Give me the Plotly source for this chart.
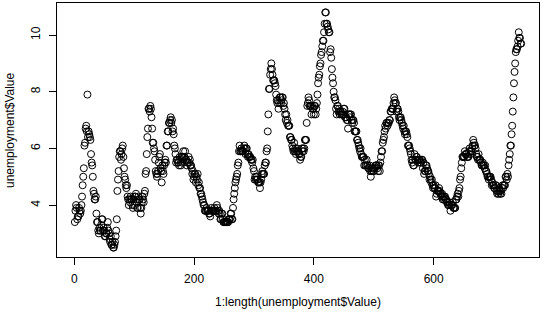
import plotly.graph_objects as go

# Monthly US unemployment rate (%), Jan 1948 onwards, one list per year
rate_1948_1959 = [
    3.4, 3.8, 4.0, 3.9, 3.5, 3.6, 3.6, 3.9, 3.8, 3.7, 3.8, 4.0,
    4.3, 4.7, 5.0, 5.3, 6.1, 6.2, 6.7, 6.8, 6.6, 7.9, 6.4, 6.6,
    6.5, 6.4, 6.3, 5.8, 5.5, 5.4, 5.0, 4.5, 4.4, 4.2, 4.2, 4.3,
    3.7, 3.4, 3.4, 3.1, 3.0, 3.2, 3.1, 3.1, 3.3, 3.5, 3.5, 3.1,
    3.2, 3.1, 2.9, 2.9, 3.0, 3.0, 3.2, 3.4, 3.1, 3.0, 2.8, 2.7,
    2.9, 2.6, 2.6, 2.7, 2.5, 2.5, 2.6, 2.7, 2.9, 3.1, 3.5, 4.5,
    4.9, 5.2, 5.7, 5.9, 5.9, 5.6, 5.8, 6.0, 6.1, 5.7, 5.3, 5.0,
    4.9, 4.7, 4.6, 4.7, 4.3, 4.2, 4.0, 4.2, 4.1, 4.3, 4.2, 4.2,
    4.0, 3.9, 4.2, 4.0, 4.3, 4.3, 4.4, 4.1, 3.9, 3.9, 4.3, 4.2,
    4.2, 3.9, 3.7, 3.9, 4.1, 4.3, 4.2, 4.1, 4.4, 4.5, 5.1, 5.2,
    5.8, 6.4, 6.7, 7.4, 7.4, 7.3, 7.5, 7.4, 7.1, 6.7, 6.2, 6.2,
    6.0, 5.9, 5.6, 5.2, 5.1, 5.0, 5.1, 5.2, 5.5, 5.7, 5.8, 5.3,
]
rate_1960_1971 = [
    5.2, 4.8, 5.4, 5.2, 5.1, 5.4, 5.5, 5.6, 5.5, 6.1, 6.1, 6.6,
    6.6, 6.9, 6.9, 7.0, 7.1, 6.9, 7.0, 6.6, 6.7, 6.5, 6.1, 6.0,
    5.8, 5.5, 5.6, 5.6, 5.5, 5.5, 5.4, 5.7, 5.6, 5.4, 5.7, 5.5,
    5.7, 5.9, 5.7, 5.7, 5.9, 5.6, 5.6, 5.4, 5.5, 5.5, 5.7, 5.5,
    5.6, 5.4, 5.4, 5.3, 5.1, 5.2, 4.9, 5.0, 5.1, 5.1, 4.8, 5.0,
    4.9, 5.1, 4.7, 4.8, 4.6, 4.6, 4.4, 4.4, 4.3, 4.2, 4.1, 4.0,
    4.0, 3.8, 3.8, 3.8, 3.9, 3.8, 3.8, 3.8, 3.7, 3.7, 3.6, 3.8,
    3.9, 3.8, 3.8, 3.8, 3.8, 3.9, 3.8, 3.8, 3.8, 4.0, 3.9, 3.8,
    3.7, 3.8, 3.7, 3.5, 3.5, 3.7, 3.7, 3.5, 3.4, 3.4, 3.4, 3.4,
    3.4, 3.4, 3.4, 3.4, 3.4, 3.5, 3.5, 3.5, 3.7, 3.7, 3.5, 3.5,
    3.9, 4.2, 4.4, 4.6, 4.8, 4.9, 5.0, 5.1, 5.4, 5.5, 5.9, 6.1,
    5.9, 5.9, 6.0, 5.9, 5.9, 5.9, 6.0, 6.1, 6.0, 5.8, 6.0, 6.0,
]
rate_1972_1983 = [
    5.8, 5.7, 5.8, 5.7, 5.7, 5.7, 5.6, 5.6, 5.5, 5.6, 5.3, 5.2,
    4.9, 5.0, 4.9, 5.0, 4.9, 4.9, 4.8, 4.8, 4.8, 4.6, 4.8, 4.9,
    5.1, 5.2, 5.1, 5.1, 5.1, 5.4, 5.5, 5.5, 5.9, 6.0, 6.6, 7.2,
    8.1, 8.1, 8.6, 8.8, 9.0, 8.8, 8.6, 8.4, 8.4, 8.4, 8.3, 8.2,
    7.9, 7.7, 7.6, 7.7, 7.4, 7.6, 7.8, 7.8, 7.6, 7.7, 7.8, 7.8,
    7.5, 7.6, 7.4, 7.2, 7.0, 7.2, 6.9, 7.0, 6.8, 6.8, 6.8, 6.4,
    6.4, 6.3, 6.3, 6.1, 6.0, 5.9, 6.2, 5.9, 6.0, 5.8, 5.9, 6.0,
    5.9, 5.9, 5.8, 5.8, 5.6, 5.7, 5.7, 6.0, 5.9, 6.0, 5.9, 6.0,
    6.3, 6.3, 6.3, 6.9, 7.5, 7.6, 7.8, 7.7, 7.5, 7.5, 7.5, 7.2,
    7.5, 7.4, 7.4, 7.2, 7.5, 7.5, 7.2, 7.4, 7.6, 7.9, 8.3, 8.5,
    8.6, 8.9, 9.0, 9.3, 9.4, 9.6, 9.8, 9.8, 10.1, 10.4, 10.8, 10.8,
    10.4, 10.4, 10.3, 10.2, 10.1, 10.1, 9.4, 9.5, 9.2, 8.8, 8.5, 8.3,
]
rate_1984_1995 = [
    8.0, 7.8, 7.8, 7.7, 7.4, 7.2, 7.5, 7.5, 7.3, 7.4, 7.2, 7.3,
    7.3, 7.2, 7.2, 7.3, 7.2, 7.4, 7.4, 7.1, 7.1, 7.1, 7.0, 7.0,
    6.7, 7.2, 7.2, 7.1, 7.2, 7.2, 7.0, 6.9, 7.0, 7.0, 6.9, 6.6,
    6.6, 6.6, 6.6, 6.3, 6.3, 6.2, 6.1, 6.0, 5.9, 6.0, 5.8, 5.7,
    5.7, 5.7, 5.7, 5.4, 5.6, 5.4, 5.4, 5.6, 5.4, 5.4, 5.3, 5.3,
    5.4, 5.2, 5.0, 5.2, 5.2, 5.3, 5.2, 5.2, 5.3, 5.3, 5.4, 5.4,
    5.4, 5.3, 5.2, 5.4, 5.4, 5.2, 5.5, 5.7, 5.9, 5.9, 6.2, 6.3,
    6.4, 6.6, 6.8, 6.7, 6.9, 6.9, 6.8, 6.9, 6.9, 7.0, 7.0, 7.3,
    7.3, 7.4, 7.4, 7.4, 7.6, 7.8, 7.7, 7.6, 7.6, 7.3, 7.4, 7.4,
    7.3, 7.1, 7.0, 7.1, 7.1, 7.0, 6.9, 6.8, 6.7, 6.8, 6.6, 6.5,
    6.6, 6.6, 6.5, 6.4, 6.1, 6.1, 6.1, 6.0, 5.9, 5.8, 5.6, 5.5,
    5.6, 5.4, 5.4, 5.8, 5.6, 5.6, 5.7, 5.7, 5.6, 5.5, 5.6, 5.6,
]
rate_1996_2010 = [
    5.6, 5.5, 5.5, 5.6, 5.6, 5.3, 5.5, 5.1, 5.2, 5.2, 5.4, 5.4,
    5.3, 5.2, 5.2, 5.1, 4.9, 5.0, 4.9, 4.8, 4.9, 4.7, 4.6, 4.7,
    4.6, 4.6, 4.7, 4.3, 4.4, 4.5, 4.5, 4.5, 4.6, 4.5, 4.4, 4.4,
    4.3, 4.4, 4.2, 4.3, 4.2, 4.3, 4.3, 4.2, 4.2, 4.1, 4.1, 4.0,
    4.0, 4.1, 4.0, 3.8, 4.0, 4.0, 4.0, 4.1, 3.9, 3.9, 3.9, 3.9,
    4.2, 4.2, 4.3, 4.4, 4.3, 4.5, 4.6, 4.9, 5.0, 5.3, 5.5, 5.7,
    5.7, 5.7, 5.7, 5.9, 5.8, 5.8, 5.8, 5.7, 5.7, 5.7, 5.9, 6.0,
    5.8, 5.9, 5.9, 6.0, 6.1, 6.3, 6.2, 6.1, 6.1, 6.0, 5.8, 5.7,
    5.7, 5.6, 5.8, 5.6, 5.6, 5.6, 5.5, 5.4, 5.4, 5.5, 5.4, 5.4,
    5.3, 5.4, 5.2, 5.2, 5.1, 5.0, 5.0, 4.9, 5.0, 5.0, 5.0, 4.9,
    4.7, 4.8, 4.7, 4.7, 4.6, 4.6, 4.7, 4.7, 4.5, 4.4, 4.5, 4.4,
    4.6, 4.5, 4.4, 4.5, 4.4, 4.6, 4.7, 4.6, 4.7, 4.7, 4.7, 5.0,
    5.0, 4.9, 5.1, 5.0, 5.4, 5.6, 5.8, 6.1, 6.1, 6.5, 6.8, 7.3,
    7.8, 8.3, 8.7, 9.0, 9.4, 9.5, 9.5, 9.6, 9.8, 10.1, 9.9, 9.9,
    9.7, 9.7,
]

values = rate_1948_1959 + rate_1960_1971 + rate_1972_1983 + rate_1984_1995 + rate_1996_2010
index = list(range(1, len(values) + 1))

x_ticks = [0, 200, 400, 600]
y_ticks = [4, 6, 8, 10]

# R-style padded ranges (4% on each side)
xpad = (max(index) - min(index)) * 0.04
ypad = (max(values) - min(values)) * 0.04

font = dict(family="Liberation Sans, Arial, Helvetica, sans-serif", size=12, color="black")

fig = go.Figure(go.Scatter(
    x=index, y=values, mode="markers",
    marker=dict(symbol="circle-open", size=7, color="black", line=dict(width=1, color="black")),
    hoverinfo="x+y",
))

axis_common = dict(
    showgrid=False, zeroline=False, showline=True, mirror=True,
    linecolor="black", linewidth=1, ticks="outside", ticklen=7,
    tickcolor="black", tickwidth=1, tickfont=font,
)

fig.update_layout(
    width=545, height=322,
    margin=dict(l=57, r=6, t=3, b=65),
    plot_bgcolor="white", paper_bgcolor="white",
    showlegend=False, font=font,
    xaxis=dict(range=[min(index) - xpad, max(index) + xpad],
               tickvals=x_ticks, ticklabelstandoff=4, **axis_common),
    yaxis=dict(range=[min(values) - ypad, max(values) + ypad],
               tickvals=y_ticks, tickangle=-90, ticklabelstandoff=4, **axis_common),
    annotations=[
        dict(text="1:length(unemployment$Value)", xref="paper", yref="paper",
             x=0.5, y=0, yshift=-45, showarrow=False, font=font,
             xanchor="center", yanchor="middle"),
        dict(text="unemployment$Value", xref="paper", yref="paper",
             x=0, y=0.5, xshift=-47, textangle=-90, showarrow=False, font=font,
             xanchor="center", yanchor="middle"),
    ],
)

fig.write_html("out.html")
